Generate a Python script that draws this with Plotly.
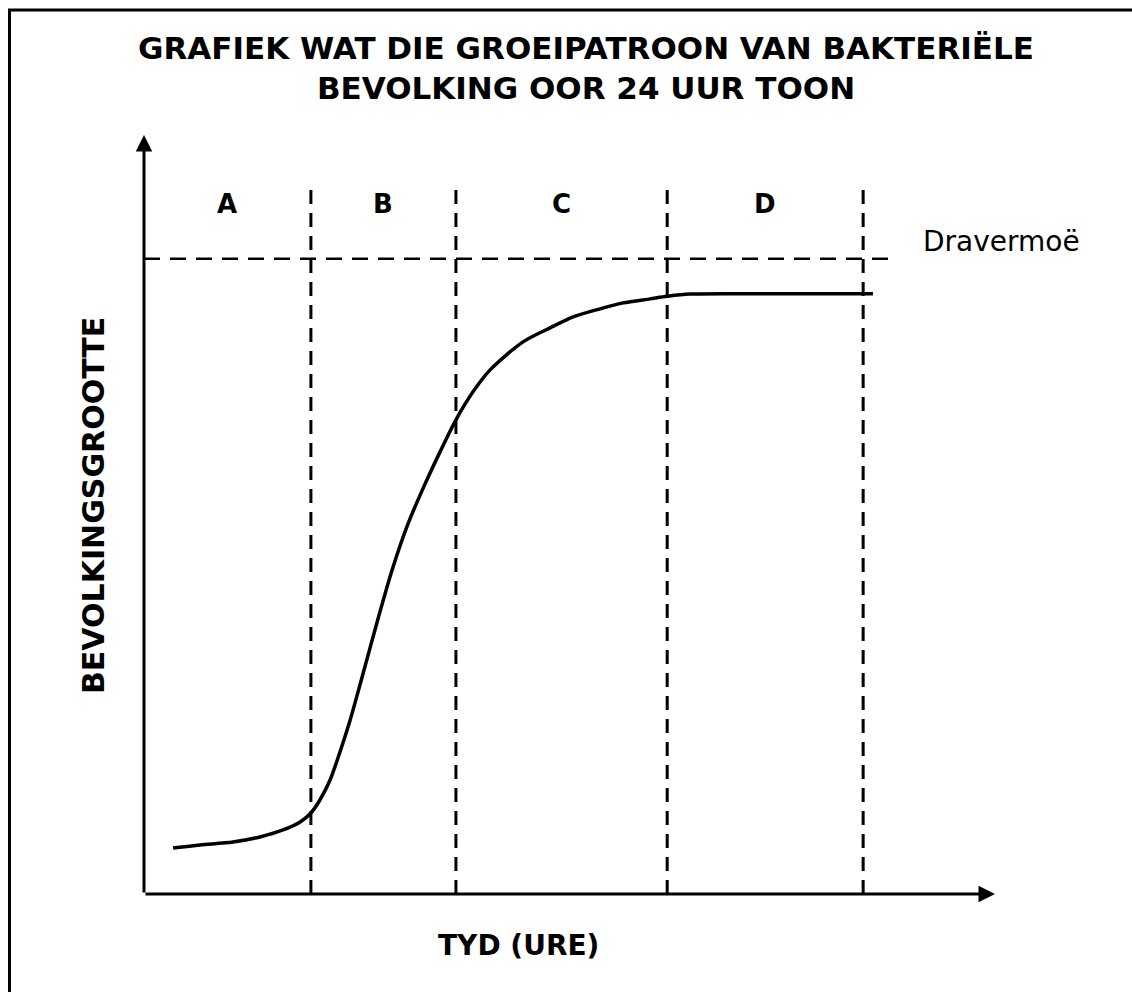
import plotly.graph_objects as go

# ---- data (arbitrary units) ----
time_h = [0.97, 1.87, 2.97, 3.87, 4.64, 5.21, 5.57, 5.87, 6.21, 6.54, 6.88, 7.28, 7.78,
          8.28, 8.81, 9.38, 9.88, 10.41, 10.98, 11.55, 12.65, 13.55, 14.32, 15.22,
          15.99, 16.89, 17.46, 18.22, 21.0, 24.33]
population = [7.24, 7.72, 8.19, 8.98, 10.08, 11.34, 12.76, 14.8, 17.95, 22.36, 27.4, 34.17, 42.83,
              51.02, 58.27, 64.57, 69.61, 74.65, 79.06, 82.52, 86.93, 89.13, 90.87, 92.13,
              93.07, 93.7, 94.1, 94.45, 94.49, 94.49]
phase_boundaries = [5.57, 10.41, 17.46, 24.0]
phase_labels = ["A", "B", "C", "D"]
carrying_capacity = 100
capacity_label = "Dravermoë"
title_lines = ["GRAFIEK WAT DIE GROEIPATROON VAN BAKTERIËLE", "BEVOLKING OOR 24 UUR TOON"]
x_title = "TYD (URE)"
y_title = "BEVOLKINGSGROOTTE"

# ---- layout geometry ----
W, H = 1132, 992
L, R, T, B = 144, 137, 135, 98
X_MAX = 28.4
Y_MAX = 119.5
LINE_TOP = 110.9
CAP_LINE_END = 25.07
FONT = "DejaVu Sans"

pw, ph = W - L - R, H - T - B


def px_x(p):
    return (p - L) / pw


def px_y(p):
    return (H - B - p) / ph


fig = go.Figure()

# carrying capacity dashed line
fig.add_trace(go.Scatter(x=[0, CAP_LINE_END], y=[carrying_capacity, carrying_capacity],
                         mode="lines", line=dict(color="black", width=2.5, dash="16px,10px"),
                         hoverinfo="skip", showlegend=False))

# phase boundary dashed lines
for b in phase_boundaries:
    fig.add_trace(go.Scatter(x=[b, b], y=[0, LINE_TOP], mode="lines",
                             line=dict(color="black", width=3, dash="14px,9px"),
                             hoverinfo="skip", showlegend=False))

# growth curve
fig.add_trace(go.Scatter(x=time_h, y=population, mode="lines",
                         line=dict(color="black", width=3.5, shape="spline", smoothing=0.8),
                         hoverinfo="skip", showlegend=False))

annotations = []
# axis arrows
annotations.append(dict(x=X_MAX, y=0, ax=0, ay=0, xref="x", yref="y", axref="x", ayref="y",
                        showarrow=True, arrowhead=2, arrowsize=1.1, arrowwidth=3,
                        arrowcolor="black", text=""))
annotations.append(dict(x=0, y=Y_MAX, ax=0, ay=0, xref="x", yref="y", axref="x", ayref="y",
                        showarrow=True, arrowhead=2, arrowsize=1.1, arrowwidth=3,
                        arrowcolor="black", text=""))

# phase labels (centred in each phase)
starts = [0] + phase_boundaries[:-1]
for lab, s, e in zip(phase_labels, starts, phase_boundaries):
    annotations.append(dict(x=(s + e) / 2, y=108.7, xref="x", yref="y", text=f"<b>{lab}</b>",
                            showarrow=False, font=dict(family=FONT, size=26, color="black")))

# capacity label
annotations.append(dict(x=25.93, y=102.8, xref="x", yref="y", text=capacity_label,
                        xanchor="left", yanchor="middle", showarrow=False,
                        font=dict(family=FONT, size=28, color="black")))

# title
annotations.append(dict(x=px_x(586), y=px_y(67.5), xref="paper", yref="paper",
                        text="<b>" + "<br>".join(title_lines) + "</b>", showarrow=False,
                        xanchor="center", yanchor="middle", align="center",
                        font=dict(family=FONT, size=31, color="black")))
# axis titles
annotations.append(dict(x=px_x(518), y=px_y(946), xref="paper", yref="paper",
                        text=f"<b>{x_title}</b>", showarrow=False, xanchor="center",
                        yanchor="middle", font=dict(family=FONT, size=28, color="black")))
annotations.append(dict(x=px_x(93), y=px_y(506), xref="paper", yref="paper",
                        text=f"<b>{y_title}</b>", showarrow=False, textangle=-90,
                        xanchor="center", yanchor="middle",
                        font=dict(family=FONT, size=30, color="black")))

shapes = [
    # page frame: top and left rules
    dict(type="line", xref="paper", yref="paper", x0=px_x(8), x1=px_x(1132),
         y0=px_y(10), y1=px_y(10), line=dict(color="black", width=3)),
    dict(type="line", xref="paper", yref="paper", x0=px_x(9.5), x1=px_x(9.5),
         y0=px_y(10), y1=px_y(992), line=dict(color="black", width=3)),
]

fig.update_layout(
    width=W, height=H, margin=dict(l=L, r=R, t=T, b=B, pad=0),
    plot_bgcolor="white", paper_bgcolor="white",
    xaxis=dict(range=[0, X_MAX], visible=False, fixedrange=True),
    yaxis=dict(range=[0, Y_MAX], visible=False, fixedrange=True),
    annotations=annotations, shapes=shapes, showlegend=False,
)

fig.write_html("out.html", config={"displayModeBar": False},
               post_script="document.body.style.margin='0px';document.body.style.overflow='hidden';")
